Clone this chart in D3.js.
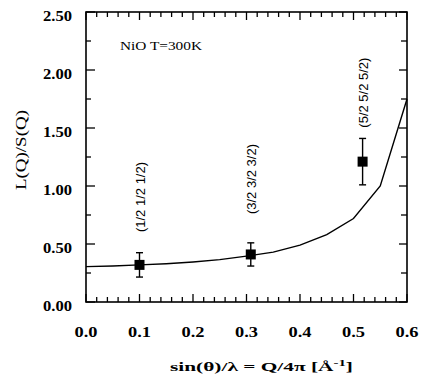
<!DOCTYPE html>
<html>
<head>
<meta charset="utf-8">
<script src="https://cdn.jsdelivr.net/npm/d3@7"></script>
<style>
  body { margin: 0; background: #fff; }
  svg { display: block; }
</style>
</head>
<body>
<div id="chart"></div>
<script>
// calculated curve L(Q)/S(Q)
const curveQ = [0, 0.05, 0.1, 0.15, 0.2, 0.25, 0.3, 0.35, 0.4, 0.45, 0.5, 0.55, 0.6];
const curveRatio = [0.305, 0.31, 0.32, 0.33, 0.345, 0.365, 0.395, 0.43, 0.49, 0.58, 0.72, 1.0, 1.75];

// measured points
const pointQ = [0.1, 0.308, 0.517];
const pointRatio = [0.32, 0.41, 1.21];
const pointErr = [0.105, 0.10, 0.20];
const pointLabels = ["(1/2 1/2 1/2)", "(3/2 3/2 3/2)", "(5/2 5/2 5/2)"];
const labelAt = [0.905, 1.06, 1.805]; // label centre, in L/S units

const xTicks = [0, 0.1, 0.2, 0.3, 0.4, 0.5, 0.6];
const yTicks = [0, 0.5, 1.0, 1.5, 2.0, 2.5];

const width = 429, height = 379;
const margin = { top: 12, right: 22, bottom: 77, left: 86 };

const svg = d3.select("#chart").append("svg")
    .attr("width", width)
    .attr("height", height);

const x = d3.scaleLinear().domain([0, 0.6]).range([margin.left, width - margin.right]);
const y = d3.scaleLinear().domain([0, 2.5]).range([height - margin.bottom, margin.top]);

const serif = "'Liberation Serif', 'Times New Roman', serif";
const sans = "'Liberation Sans', Arial, sans-serif";

// minor + major ticks, all pointing inward
const xMinor = d3.range(0, 0.6001, 0.02);
const yMinor = d3.range(0, 2.5001, 0.25);
const isMajorX = v => Math.abs(v * 10 - Math.round(v * 10)) < 1e-6;
const isMajorY = v => Math.abs(v * 2 - Math.round(v * 2)) < 1e-6;

const ticks = svg.append("g").attr("stroke", "#000").attr("stroke-width", 1.3);

ticks.selectAll(".xb").data(xMinor).join("line")
    .attr("x1", d => x(d)).attr("x2", d => x(d))
    .attr("y1", y(0)).attr("y2", d => y(0) - (isMajorX(d) ? 8 : 5));
ticks.selectAll(".xt").data(xMinor).join("line")
    .attr("x1", d => x(d)).attr("x2", d => x(d))
    .attr("y1", y(2.5)).attr("y2", d => y(2.5) + (isMajorX(d) ? 8 : 5));
ticks.selectAll(".yl").data(yMinor).join("line")
    .attr("y1", d => y(d)).attr("y2", d => y(d))
    .attr("x1", x(0)).attr("x2", d => x(0) + (isMajorY(d) ? 9 : 5));
ticks.selectAll(".yr").data(yMinor).join("line")
    .attr("y1", d => y(d)).attr("y2", d => y(d))
    .attr("x1", x(0.6)).attr("x2", d => x(0.6) - (isMajorY(d) ? 8 : 6));

// frame
svg.append("rect")
    .attr("x", x(0)).attr("y", y(2.5))
    .attr("width", x(0.6) - x(0)).attr("height", y(0) - y(2.5))
    .attr("fill", "none").attr("stroke", "#000").attr("stroke-width", 1.6);

// tick labels
svg.append("g").selectAll("text").data(xTicks).join("text")
    .attr("x", d => x(d)).attr("y", y(0) + 35)
    .attr("text-anchor", "middle")
    .attr("font-family", serif).attr("font-size", 15).attr("font-weight", "bold")
    .attr("textLength", 23).attr("lengthAdjust", "spacingAndGlyphs")
    .text(d3.format(".1f"));

svg.append("g").selectAll("text").data(yTicks).join("text")
    .attr("x", x(0) - 14).attr("y", d => y(d) + 9)
    .attr("text-anchor", "end")
    .attr("font-family", serif).attr("font-size", 15).attr("font-weight", "bold")
    .attr("textLength", 29).attr("lengthAdjust", "spacingAndGlyphs")
    .text(d3.format(".2f"));

// axis titles
const xt = svg.append("text")
    .attr("x", (x(0) + x(0.6)) / 2 + 15).attr("y", 371)
    .attr("text-anchor", "middle")
    .attr("font-family", serif).attr("font-size", 13).attr("font-weight", "bold")
    .attr("textLength", 183).attr("lengthAdjust", "spacingAndGlyphs");
xt.append("tspan").text("sin(θ)/λ = Q/4π [Å");
xt.append("tspan").attr("font-size", 9).attr("dy", -5).text("-1");
xt.append("tspan").attr("dy", 5).text("]");

svg.append("text")
    .attr("transform", `translate(26, ${y(1.31)}) rotate(-90)`)
    .attr("text-anchor", "middle")
    .attr("font-family", serif).attr("font-size", 14)
    .attr("textLength", 80).attr("lengthAdjust", "spacingAndGlyphs")
    .text("L(Q)/S(Q)");

svg.append("text")
    .attr("x", 120).attr("y", 50)
    .attr("font-family", serif).attr("font-size", 13)
    .attr("textLength", 82).attr("lengthAdjust", "spacingAndGlyphs")
    .text("NiO  T=300K");

// curve
const line = d3.line().x(d => x(d[0])).y(d => y(d[1]));
svg.append("path")
    .datum(d3.zip(curveQ, curveRatio))
    .attr("d", line)
    .attr("fill", "none").attr("stroke", "#000").attr("stroke-width", 1.4);

// data points with error bars
const pts = d3.range(pointQ.length).map(i => ({
    q: pointQ[i], r: pointRatio[i], e: pointErr[i], label: pointLabels[i], at: labelAt[i]
}));

const g = svg.append("g");
g.selectAll(".eb").data(pts).join("line")
    .attr("x1", d => x(d.q)).attr("x2", d => x(d.q))
    .attr("y1", d => y(d.r - d.e)).attr("y2", d => y(d.r + d.e))
    .attr("stroke", "#000").attr("stroke-width", 1.4);
g.selectAll(".capt").data(pts).join("line")
    .attr("x1", d => x(d.q) - 3.5).attr("x2", d => x(d.q) + 3.5)
    .attr("y1", d => y(d.r + d.e)).attr("y2", d => y(d.r + d.e))
    .attr("stroke", "#000").attr("stroke-width", 1.4);
g.selectAll(".capb").data(pts).join("line")
    .attr("x1", d => x(d.q) - 3.5).attr("x2", d => x(d.q) + 3.5)
    .attr("y1", d => y(d.r - d.e)).attr("y2", d => y(d.r - d.e))
    .attr("stroke", "#000").attr("stroke-width", 1.4);
g.selectAll("rect").data(pts).join("rect")
    .attr("x", d => x(d.q) - 5).attr("y", d => y(d.r) - 5)
    .attr("width", 10).attr("height", 10)
    .attr("fill", "#000");

g.selectAll("text").data(pts).join("text")
    .attr("transform", d => `translate(${x(d.q) + 1}, ${y(d.at)}) rotate(-90)`)
    .attr("text-anchor", "middle")
    .attr("dominant-baseline", "central")
    .attr("font-family", sans).attr("font-size", 13)
    .text(d => d.label);
</script>
</body>
</html>
